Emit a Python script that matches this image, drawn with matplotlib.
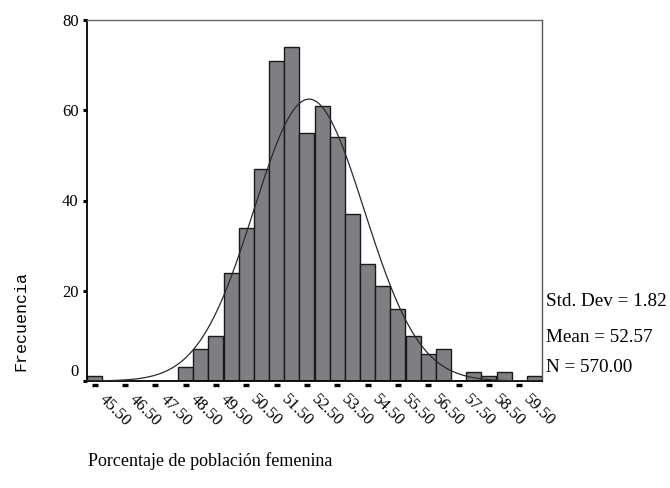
import numpy as np
import matplotlib
matplotlib.use("Agg")
import matplotlib.pyplot as plt
import matplotlib.transforms as mtransforms

# ---- data ----
bin_centers = [45.5, 46.0, 46.5, 47.0, 47.5, 48.0, 48.5, 49.0, 49.5, 50.0,
               50.5, 51.0, 51.5, 52.0, 52.5, 53.0, 53.5, 54.0, 54.5, 55.0,
               55.5, 56.0, 56.5, 57.0, 57.5, 58.0, 58.5, 59.0, 59.5, 60.0]
counts = [1, 0, 0, 0, 0, 0, 3, 7, 10, 24,
          34, 47, 71, 74, 55, 61, 54, 37, 26, 21,
          16, 10, 6, 7, 0, 2, 1, 2, 0, 1]
bin_width = 0.5
std_dev = 1.82
mean = 52.57
n_total = 570
xtick_values = [45.5, 46.5, 47.5, 48.5, 49.5, 50.5, 51.5, 52.5, 53.5,
                54.5, 55.5, 56.5, 57.5, 58.5, 59.5]
xtick_labels = ["45.50", "46.50", "47.50", "48.50", "49.50", "50.50", "51.50",
                "52.50", "53.50", "54.50", "55.50", "56.50", "57.50", "58.50",
                "59.50"]
ytick_values = [0, 20, 40, 60, 80]
ytick_labels = ["0", "20", "40", "60", "80"]
x_label = "Porcentaje de población femenina"
y_label = "Frecuencia"
stats_lines = ["Std. Dev = 1.82", "Mean = 52.57", "N = 570.00"]

W, H = 670, 488
fig = plt.figure(figsize=(W / 100, H / 100), dpi=100)
ax = fig.add_axes([87 / W, 1 - 381 / H, (542 - 87) / W, (381 - 20) / H])

ax.bar(bin_centers, counts, width=bin_width, color="#7f7f83",
       edgecolor="#1a1a1a", linewidth=1.0, zorder=2)

xs = np.linspace(45.25, 60.25, 400)
pdf = n_total * bin_width / (std_dev * np.sqrt(2 * np.pi)) * np.exp(-0.5 * ((xs - mean) / std_dev) ** 2)
ax.plot(xs, pdf, color="#2a2a2a", linewidth=0.9, zorder=3)

ax.set_xlim(45.25, 60.25)
ax.set_ylim(0, 80)

serif = "Liberation Serif"
ax.set_yticks(ytick_values)
ax.set_yticklabels(ytick_labels, fontsize=12, family=serif)
ax.set_xticks(xtick_values)
ax.set_xticklabels(xtick_labels, fontsize=12, family=serif, rotation=-45,
                   rotation_mode="anchor", ha="left", va="center")
ax.tick_params(axis="y", direction="out", length=3, width=2.2, pad=3, color="black")
ax.tick_params(axis="x", direction="out", length=0, pad=12)

# detached tick dashes below the x axis
dash_tr = ax.get_xaxis_transform() + mtransforms.ScaledTranslation(0, -4 / 100, fig.dpi_scale_trans)
ax.plot(xtick_values, [0] * len(xtick_values), linestyle="none", marker="_",
        markersize=4.5, markeredgewidth=2.4, color="black", transform=dash_tr,
        clip_on=False)

# shift the "0" label up slightly as in the reference
for lab in ax.get_yticklabels():
    if lab.get_text() == "0":
        lab.set_transform(lab.get_transform() + mtransforms.ScaledTranslation(0, 11 / 100, fig.dpi_scale_trans))
for lab in ax.get_xticklabels():
    lab.set_transform(lab.get_transform() + mtransforms.ScaledTranslation(7 / 100, 0, fig.dpi_scale_trans))

ax.spines["left"].set_color("black")
ax.spines["left"].set_linewidth(1.3)
ax.spines["bottom"].set_color("black")
ax.spines["bottom"].set_linewidth(1.3)
ax.spines["top"].set_color("#666666")
ax.spines["top"].set_linewidth(1.0)
ax.spines["right"].set_color("#555555")
ax.spines["right"].set_linewidth(1.0)

fig.text(88 / W, 1 - 461 / H, x_label, fontsize=13, family=serif, ha="left", va="center")
fig.text(21 / W, 1 - 321 / H, y_label, fontsize=12, family="Liberation Mono",
         rotation=90, ha="center", va="center")

for txt, yc in zip(stats_lines, [302, 338, 367]):
    fig.text(546 / W, 1 - yc / H, txt, fontsize=13.8, family=serif, ha="left", va="center")

fig.savefig("out.png", dpi=100)
